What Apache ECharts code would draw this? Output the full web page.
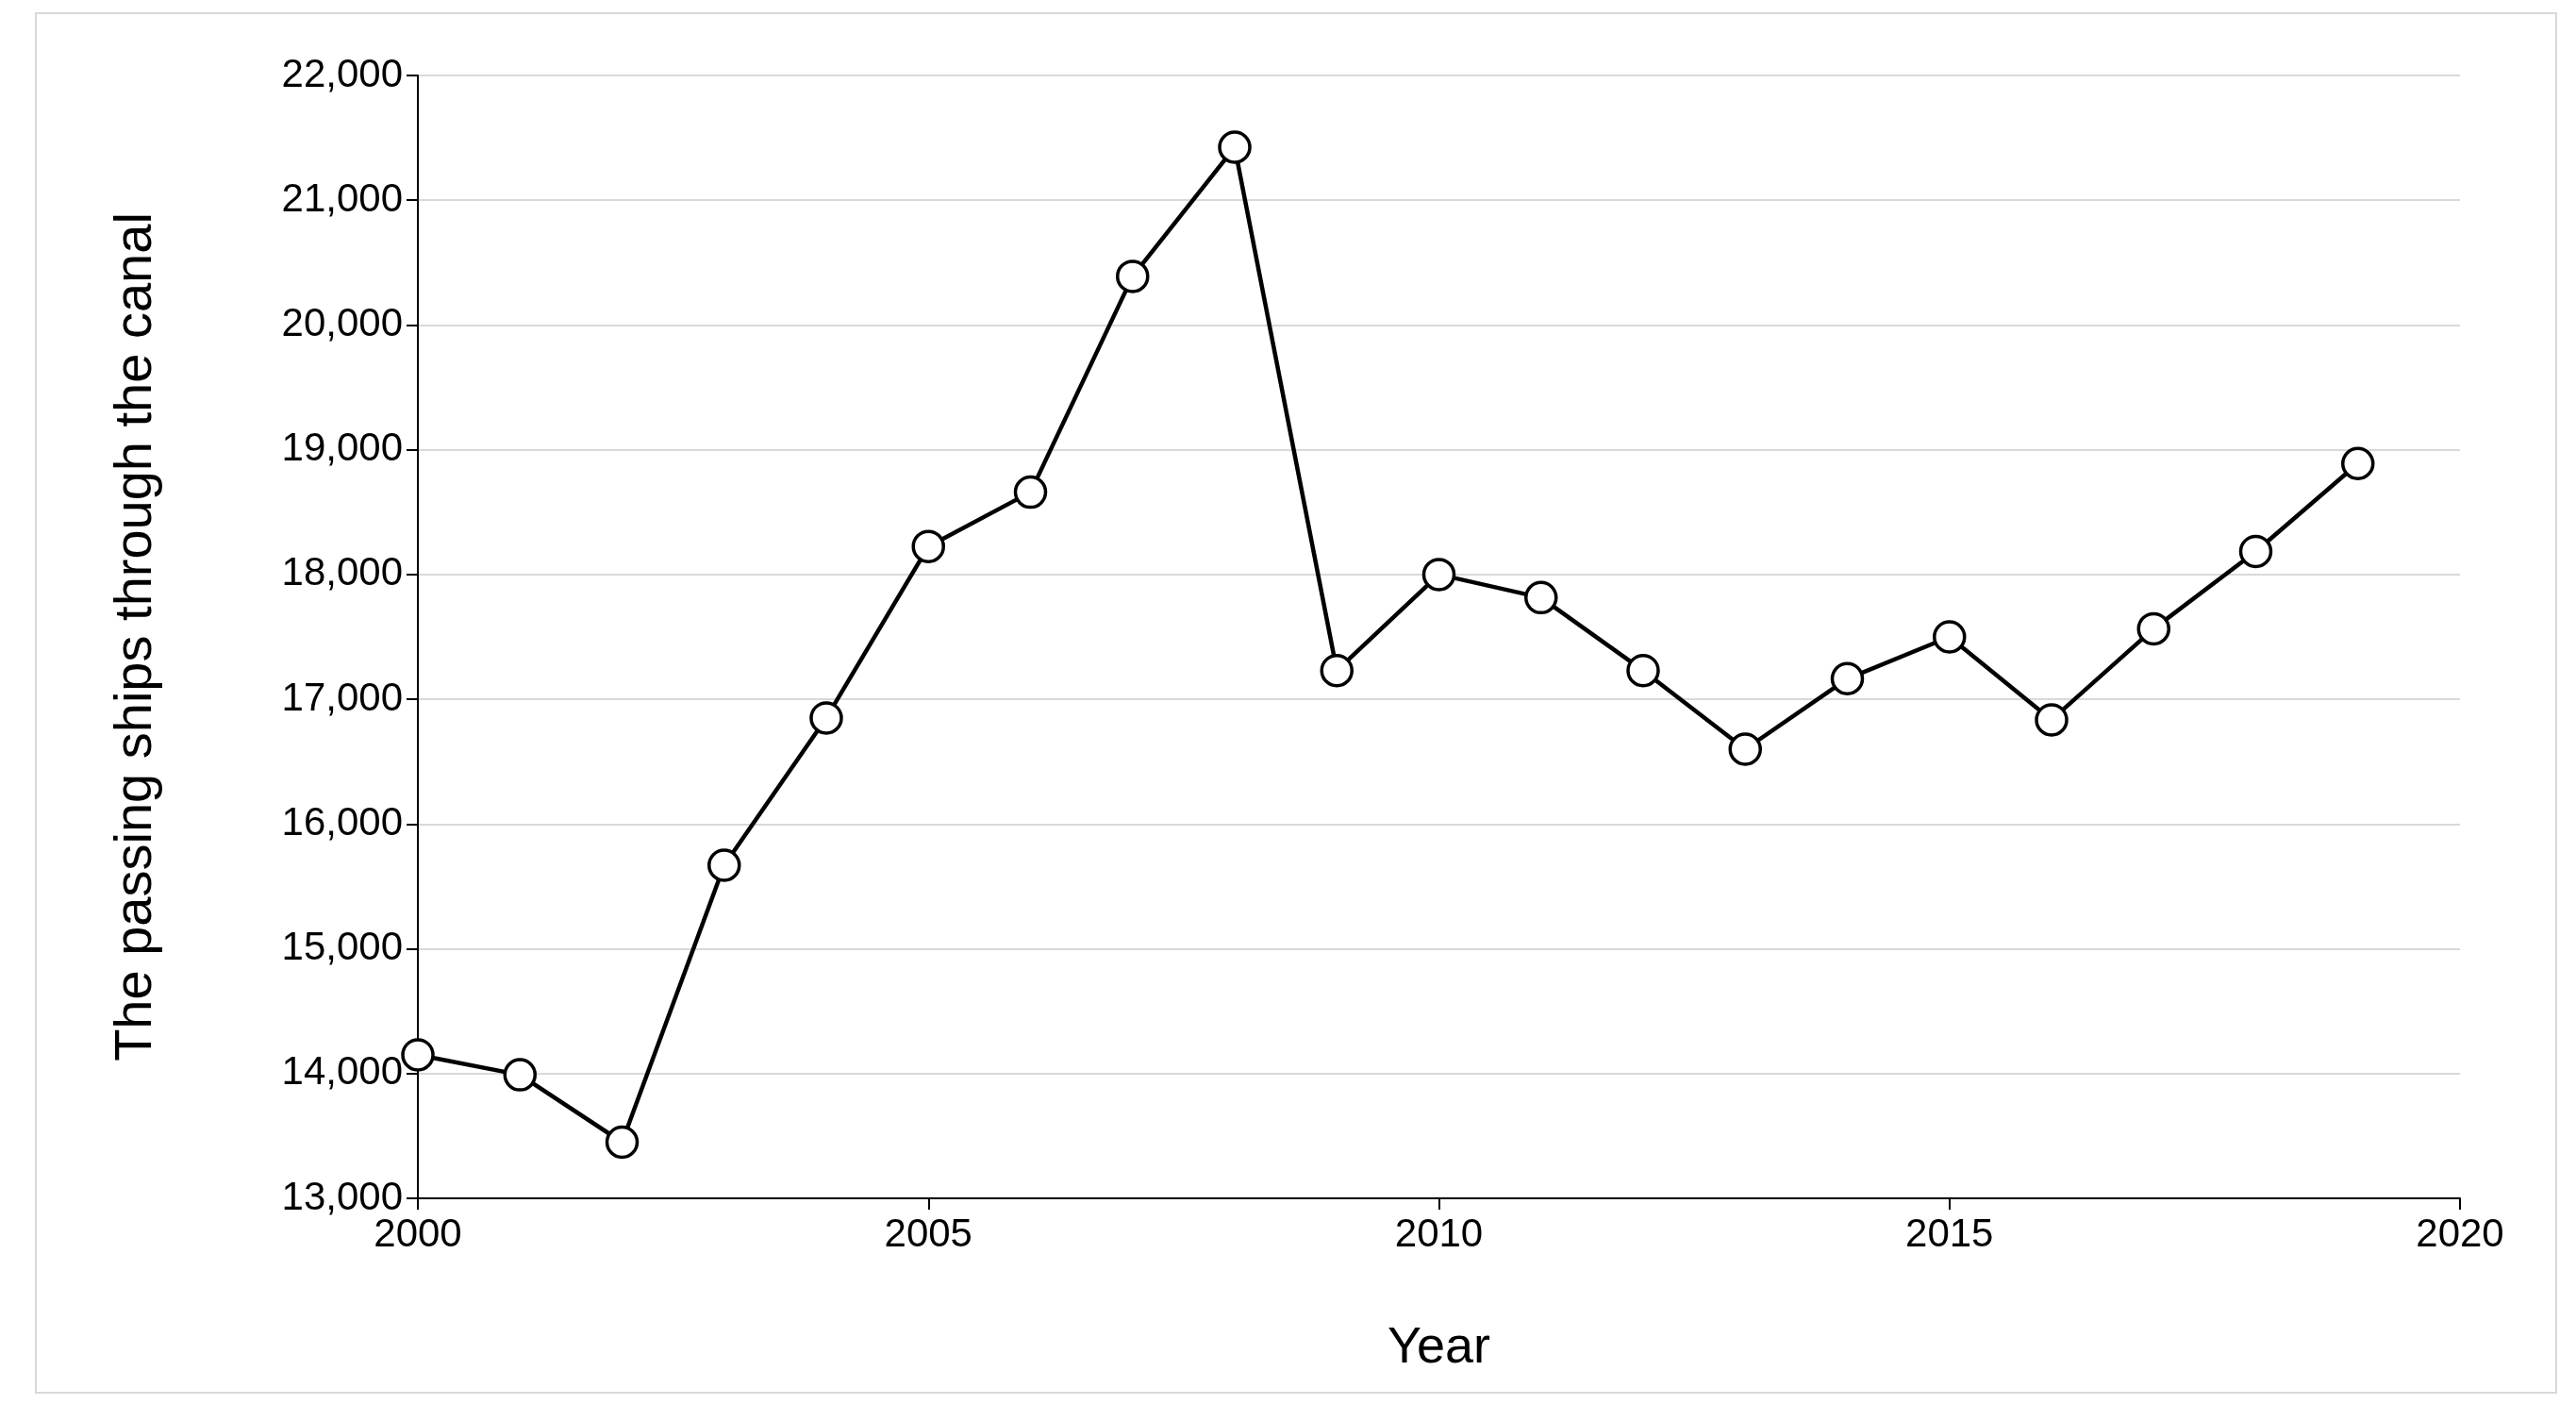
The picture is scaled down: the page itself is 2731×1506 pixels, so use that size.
<!DOCTYPE html>
<html><head><meta charset="utf-8">
<script src="https://cdn.jsdelivr.net/npm/echarts@6/dist/echarts.min.js"></script>
<style>html,body{margin:0;background:#fff}#c{width:2731px;height:1506px}</style>
</head><body><div id="c"></div>
<script>
const years = [2000,2001,2002,2003,2004,2005,2006,2007,2008,2009,2010,2011,2012,2013,2014,2015,2016,2017,2018,2019];
const ships = [14150,13990,13450,15670,16850,18225,18660,20390,21425,17230,18000,17815,17230,16600,17165,17500,16835,17565,18185,18890];
const xTitle = 'Year';
const yTitle = 'The passing ships through the canal';
const chart = echarts.init(document.getElementById('c'));
const font = 'Liberation Sans, Arial, sans-serif';
chart.setOption({
  animation:false,
  graphic:[{type:'rect',shape:{x:38,y:14,width:2672,height:1462},style:{fill:'none',stroke:'#d9d9d9',lineWidth:2}}],
  grid:{left:443,right:123,top:80,bottom:236},
  xAxis:{type:'value',min:2000,max:2020,interval:5,name:xTitle,nameLocation:'middle',nameGap:132,
    nameTextStyle:{fontFamily:font,fontSize:54,color:'#000'},
    axisLine:{lineStyle:{color:'#000',width:2}},axisTick:{show:true,length:12,lineStyle:{color:'#000',width:2}},
    axisLabel:{fontFamily:font,fontSize:42,color:'#000',margin:18,formatter:v=>String(v)},splitLine:{show:false}},
  yAxis:{type:'value',min:13000,max:22000,interval:1000,name:yTitle,nameLocation:'middle',nameGap:270,
    nameTextStyle:{fontFamily:font,fontSize:56,color:'#000'},
    axisLine:{show:true,lineStyle:{color:'#000',width:2}},axisTick:{show:true,length:12,lineStyle:{color:'#000',width:2}},
    axisLabel:{fontFamily:font,fontSize:42,color:'#000',margin:16,formatter:v=>v.toLocaleString('en-US')},
    splitLine:{lineStyle:{color:'#d9d9d9',width:2}}},
  series:[{type:'line',data:years.map((y,i)=>[y,ships[i]]),symbol:'circle',symbolSize:32,
    lineStyle:{color:'#000',width:4.5},itemStyle:{color:'#fff',borderColor:'#000',borderWidth:3.5}}]
});
</script></body></html>
